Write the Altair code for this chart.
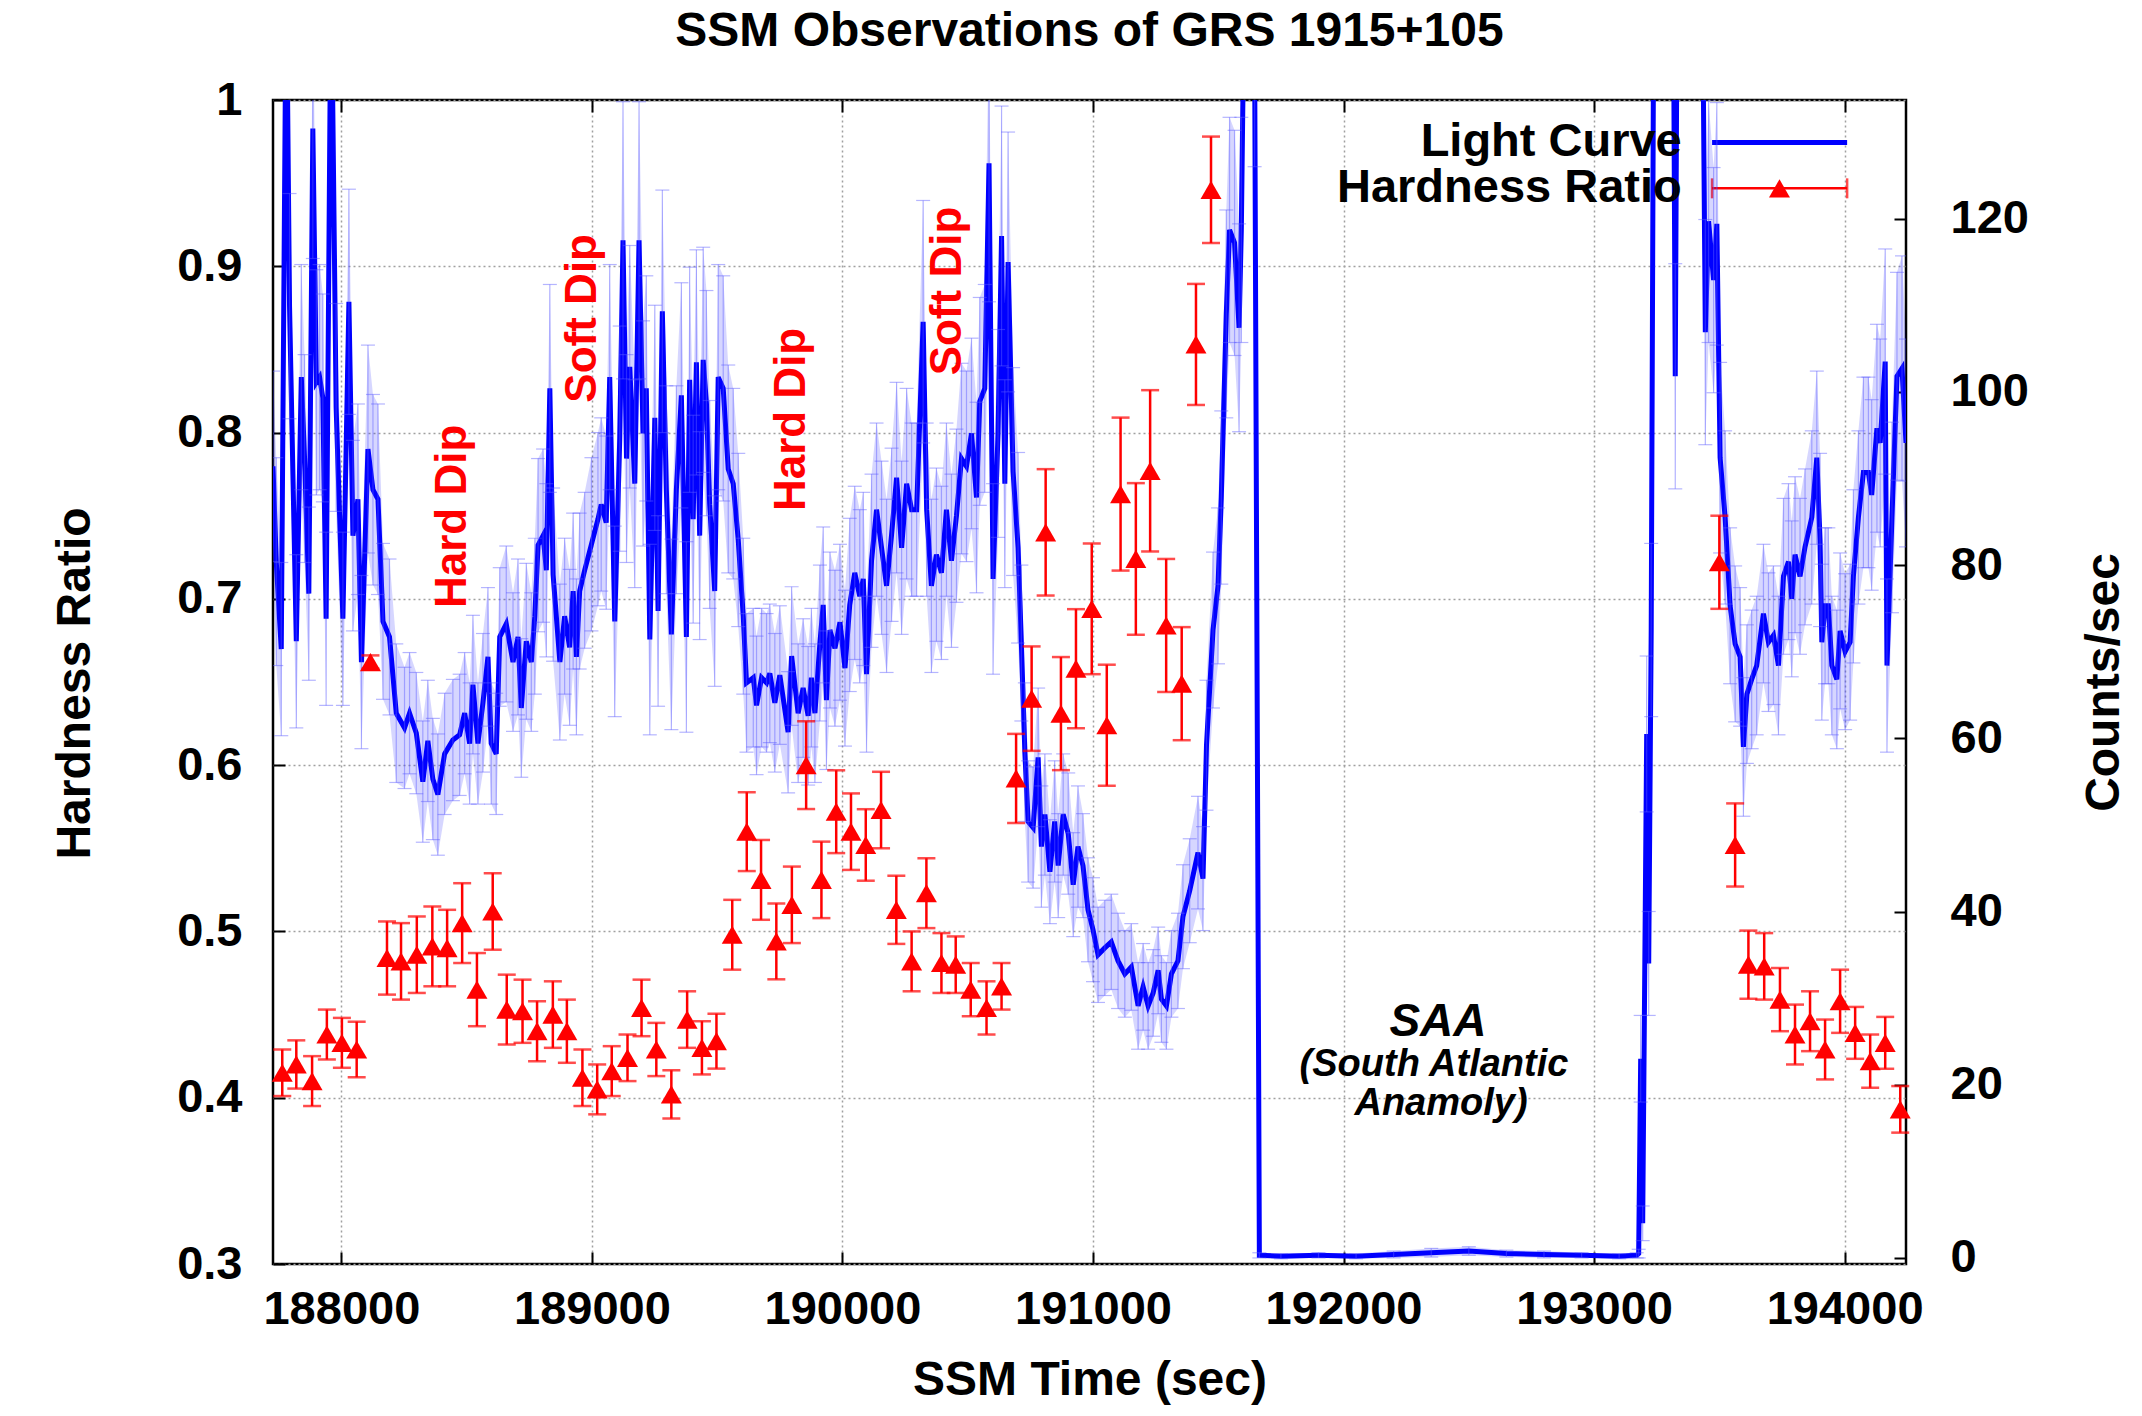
import altair as alt
import pandas as pd

FONT = "Liberation Sans"

# ---------------- data ----------------
# Light curve (SSM counts/sec), time in SSM seconds
lc_time = [
    187727, 187740, 187760, 187780, 187793, 187820, 187840, 187853, 187870, 187886,
    187900, 187913, 187926, 187939, 187959, 187979, 188006, 188030, 188046, 188066,
    188080, 188106, 188126, 188146,
    188166, 188192, 188219, 188252, 188272, 188299, 188325, 188345, 188365, 188385,
    188412, 188445, 188472, 188492, 188512, 188525, 188545, 188565, 188585, 188598, 188618,
    188632, 188658, 188685, 188705, 188718, 188738, 188758, 188772, 188785, 188805,
    188818, 188832, 188845, 188872, 188891, 188911, 188925, 188938, 188951, 188971,
    188998, 189024, 189037, 189057,
    189071, 189091, 189111, 189124, 189138, 189151, 189171, 189188, 189204, 189217,
    189231, 189251, 189264, 189281, 189297, 189317, 189337, 189357, 189377, 189390,
    189404, 189417, 189430, 189444, 189457, 189470, 189490, 189504, 189524, 189544,
    189564, 189584, 189604,
    189617, 189644, 189657, 189677, 189697, 189710, 189730, 189750, 189783, 189797,
    189823, 189843, 189863, 189876, 189890, 189910, 189923, 189936, 189950, 189970, 189990,
    190010, 190029, 190049, 190069, 190083, 190096, 190116, 190136, 190156, 190176,
    190196, 190216, 190236, 190256, 190276, 190296, 190322, 190336, 190355, 190375,
    190395, 190415, 190435, 190455, 190475, 190495, 190515, 190535, 190548, 190568,
    190585, 190601, 190621, 190635, 190648, 190661, 190681, 190701, 190714,
    190728, 190741, 190761, 190781, 190794, 190808, 190828, 190847, 190861, 190881,
    190901, 190921, 190940, 190960, 190980, 191000, 191020, 191047, 191073, 191100,
    191127, 191153, 191180, 191200, 191220, 191240, 191260, 191273, 191293, 191313,
    191339, 191359, 191386, 191419, 191439, 191453, 191479, 191499, 191512, 191532,
    191545, 191565, 191583, 191592,
    191605, 191620, 191645, 191664, 191750, 191900, 192050, 192200, 192350, 192500,
    192650, 192800, 192950, 193100, 193170,
    193178, 193186, 193194, 193210, 193218, 193228, 193240, 193280, 193316, 193324,
    193332, 193380, 193432, 193444, 193457, 193477, 193490, 193503, 193523, 193543,
    193563, 193583, 193596, 193610, 193629, 193649, 193676, 193696, 193716, 193736,
    193756, 193776, 193789, 193802, 193822, 193842, 193869, 193889, 193902, 193909,
    193922, 193935, 193949, 193969, 193982, 194002, 194022, 194035, 194055, 194075,
    194095, 194108, 194129, 194142, 194162, 194169, 194189, 194209, 194229, 194245,
]
lc_rate = [
    91.4, 80.4, 70.3, 150, 109.9, 71.2, 101.7, 92.3, 76.7, 130.4,
    101.1, 101.7, 99.3, 73.8, 150, 98.2, 73.8, 110.4, 83.4, 87.6,
    68.8, 93.4, 88.7, 87.6,
    73.5, 71.7, 62.9, 61.2, 62.9, 60.6, 55.0, 59.7, 55.3, 53.5,
    58.2, 59.8, 60.4, 62.9, 59.4, 66.2, 59.4, 64.1, 69.4, 59.4, 58.2,
    71.7, 73.2, 68.8, 71.7, 63.5, 71.2, 68.8, 74.1, 82.3, 83.4,
    79.4, 100.4, 78.9, 68.8, 74.1, 70.5, 77.0, 69.4, 77.0, 79.4,
    82.4, 85.3, 87.0, 84.9,
    101.7, 73.5, 94.6, 117.5, 92.3, 102.9, 89.4, 117.5, 95.2, 100.4,
    71.4, 97.0, 74.7, 109.3, 88.7, 72.0, 88.7, 99.6, 71.7, 101.4,
    85.3, 103.4, 83.4, 103.7, 98.7, 87.0, 77.0, 101.7, 100.4, 91.1,
    89.4, 82.9, 74.1,
    66.4, 67.0, 63.8, 67.0, 66.4, 67.5, 64.1, 67.3, 60.7, 69.5,
    62.9, 65.8, 62.6, 67.0, 62.9, 71.0, 75.4, 64.4, 72.5, 70.4, 73.4,
    68.1, 75.4, 79.1, 76.4, 78.4, 67.4, 80.5, 86.4, 82.0, 77.6,
    83.5, 90.1, 82.0, 89.4, 86.4, 86.4, 108.1, 86.4, 77.6, 81.2,
    79.1, 86.4, 80.5, 85.7, 92.3, 91.4, 95.2, 87.8, 98.9, 100.4,
    126.4, 78.4, 95.2, 118.0, 89.4, 115.0, 90.8, 82.0, 71.0,
    58.4, 50.4, 49.7, 57.8, 47.5, 51.2, 44.6, 50.4, 45.3, 51.2,
    49.0, 43.1, 47.5, 45.3, 40.2, 37.9, 35.0, 35.8, 36.5, 34.3,
    32.8, 33.6, 29.1, 31.3, 29.1, 30.6, 33.2, 29.9, 29.1, 32.8,
    34.3, 39.4, 42.4, 46.8, 43.8, 59.2, 72.5, 77.6, 87.8, 109.0,
    118.7, 117.2, 107.4, 118.7,
    150, 170, 140, 0.3, 0.2, 0.3, 0.2, 0.4, 0.6, 0.8,
    0.5, 0.4, 0.3, 0.2, 0.3,
    0.5, 23.0, 4.0, 60.5, 34.0, 72.5, 160, 170, 150, 101.8,
    150, 170, 150, 106.9, 119.7, 112.9, 119.4, 92.4, 85.5, 75.3,
    70.9, 69.4, 59.0, 65.1, 66.8, 68.4, 74.4, 71.1, 71.9, 68.4,
    78.7, 80.4, 76.1, 81.2, 78.7, 82.1, 85.5, 92.4, 82.9, 71.1,
    75.3, 75.3, 68.4, 66.8, 72.4, 70.0, 71.1, 78.7, 85.5, 90.7,
    90.7, 88.1, 95.8, 94.1, 103.5, 68.4, 85.5, 101.8, 102.7, 94.1,
]
lc_err = [
    11, 12, 10, 14, 13, 10, 13, 12, 10, 15,
    13, 13, 12, 10, 14, 12, 10, 13, 11, 11,
    10, 12, 11, 11,
    9, 9, 8, 7, 7, 7, 7, 7, 7, 7,
    7, 7, 7, 7, 7, 8, 7, 8, 8, 7, 7,
    8, 9, 8, 9, 8, 9, 8, 9, 10, 10,
    10, 12, 10, 9, 9, 9, 9, 9, 9, 9,
    10, 10, 10, 10,
    13, 11, 13, 16, 12, 14, 12, 16, 13, 13,
    11, 13, 11, 14, 12, 11, 12, 13, 11, 13,
    12, 13, 12, 13, 13, 12, 11, 13, 13, 12,
    11, 10, 9,
    8, 8, 8, 8, 8, 8, 8, 8, 7, 8,
    8, 8, 8, 8, 8, 9, 9, 8, 9, 9, 9,
    9, 10, 10, 10, 10, 9, 10, 10, 10, 10,
    10, 11, 10, 11, 10, 10, 14, 10, 10, 10,
    10, 10, 10, 10, 11, 11, 11, 11, 12, 12,
    16, 11, 12, 15, 12, 15, 12, 11, 9,
    8, 7, 7, 8, 7, 7, 6, 7, 6, 7,
    7, 6, 7, 6, 6, 6, 5.5, 5.5, 5.5, 5.5,
    5, 5, 5, 5, 5, 5, 5, 5, 5, 5,
    5.5, 6, 6, 6.5, 6, 7.5, 9, 9, 10, 12,
    13, 13, 12, 13,
    14, 15, 14, 0.3, 0.3, 0.3, 0.3, 0.4, 0.5, 0.5,
    0.4, 0.4, 0.3, 0.3, 0.3,
    0.5, 5, 2, 9, 6, 10, 14, 15, 14, 13,
    14, 15, 14, 13, 14, 13, 14, 11, 10, 9,
    9, 8, 8, 8, 8, 8, 8, 8, 8, 8,
    9, 9, 9, 9, 9, 9, 10, 10, 10, 9,
    9, 9, 8, 8, 9, 9, 9, 10, 10, 11,
    11, 11, 12, 12, 13, 10, 11, 12, 13, 12,
]

# Hardness ratio
hr_time = [
    187764, 187820, 187883, 187942, 188002, 188061, 188116, 188182, 188238, 188301,
    188363, 188422, 188482, 188541, 188604, 188660, 188723, 188781, 188844, 188900,
    188962, 189021, 189079, 189142, 189198, 189257, 189317, 189380, 189439, 189497,
    189560, 189618, 189675, 189736, 189798, 189855, 189916, 189975, 190034, 190093,
    190154, 190215, 190276, 190335, 190395, 190452, 190512, 190575, 190635, 190693,
    190755, 190811, 190872, 190932, 190995, 191055, 191110, 191171, 191228, 191292,
    191354, 191411, 191471,
    193500, 193563, 193616, 193679, 193742, 193802, 193862, 193922, 193982, 194042,
    194102, 194162, 194222,
]
hr_value = [
    0.415, 0.420, 0.410, 0.438, 0.433, 0.429, 0.662, 0.484, 0.482, 0.486,
    0.491, 0.490, 0.505, 0.465, 0.512, 0.453, 0.452, 0.440, 0.450, 0.440,
    0.412, 0.405, 0.416, 0.424, 0.454, 0.429, 0.402, 0.447, 0.430, 0.434,
    0.498, 0.560, 0.531, 0.494, 0.516, 0.600, 0.531, 0.572, 0.560, 0.552,
    0.573, 0.513, 0.482, 0.523, 0.481, 0.480, 0.465, 0.454, 0.467, 0.592,
    0.640, 0.740, 0.631, 0.658, 0.694, 0.624, 0.763, 0.724, 0.777, 0.684,
    0.649, 0.853, 0.946,
    0.722, 0.552, 0.480, 0.479, 0.459, 0.438, 0.446, 0.429, 0.458, 0.439,
    0.422, 0.433, 0.393,
]
hr_err = [
    0.014, 0.0145, 0.015, 0.015, 0.015, 0.0167, 0.004, 0.022, 0.023, 0.023,
    0.024, 0.023, 0.024, 0.022, 0.023, 0.021, 0.019, 0.018, 0.020, 0.019,
    0.017, 0.015, 0.015, 0.014, 0.017, 0.016, 0.0145, 0.017, 0.016, 0.0165,
    0.021, 0.0237, 0.024, 0.0228, 0.023, 0.0264, 0.023, 0.0249, 0.023, 0.0215,
    0.023, 0.0205, 0.018, 0.021, 0.018, 0.017, 0.016, 0.016, 0.014, 0.0268,
    0.0314, 0.038, 0.034, 0.0358, 0.0393, 0.0364, 0.046, 0.0456, 0.0485, 0.040,
    0.034, 0.0364, 0.032,
    0.028, 0.025, 0.0205, 0.020, 0.019, 0.018, 0.018, 0.018, 0.019, 0.0156,
    0.016, 0.0156, 0.014,
]

x_ticks = [188000, 189000, 190000, 191000, 192000, 193000, 194000]
hr_ticks = [0.3, 0.4, 0.5, 0.6, 0.7, 0.8, 0.9, 1.0]
rate_ticks = [0, 20, 40, 60, 80, 100, 120]

dip_labels = ["Hard Dip", "Soft Dip", "Hard Dip", "Soft Dip"]
dip_time = [188447, 188965, 189800, 190421]
dip_hr = [0.7496, 0.8687, 0.8079, 0.8851]

saa_labels = ["SAA", "(South Atlantic", "Anamoly)"]
saa_time = [192377, 192361, 192389]
saa_hr = [0.4455, 0.4194, 0.3962]
saa_size = [46, 38, 38]

legend_labels = ["Light Curve", "Hardness Ratio"]
legend_rate = [128.8, 123.5]
legend_text_time = [193350, 193350]
legend_sample_time = [193471, 194010]
legend_marker_time = [193740]

assert len(lc_time) == len(lc_rate) == len(lc_err), (len(lc_time), len(lc_rate), len(lc_err))
assert len(hr_time) == len(hr_value) == len(hr_err), (len(hr_time), len(hr_value), len(hr_err))

# ---------------- tables ----------------
lc_df = pd.DataFrame({"t": lc_time, "rate": lc_rate, "err": lc_err})
lc_df["lo"] = lc_df["rate"] - lc_df["err"]
lc_df["hi"] = lc_df["rate"] + lc_df["err"]

hr_df = pd.DataFrame({"t": hr_time, "hr": hr_value, "err": hr_err})
hr_df["lo"] = hr_df["hr"] - hr_df["err"]
hr_df["hi"] = hr_df["hr"] + hr_df["err"]

dip_df = pd.DataFrame({"t": dip_time, "hr": dip_hr, "label": dip_labels})
saa_df = pd.DataFrame({"t": saa_time, "hr": saa_hr, "label": saa_labels, "fs": saa_size})
leg_text_df = pd.DataFrame({"t": legend_text_time, "rate": legend_rate, "label": legend_labels})
leg_line_df = pd.DataFrame({
    "t1": [legend_sample_time[0]] * 2, "t2": [legend_sample_time[1]] * 2,
    "rate": legend_rate, "col": ["#0000ff", "#ff0000"], "w": [5, 2.5],
})
leg_cap_df = pd.DataFrame({"t": legend_sample_time, "rate": [legend_rate[1]] * 2})
leg_tri_df = pd.DataFrame({"t": legend_marker_time, "rate": [legend_rate[1]]})

# ---------------- scales & axes ----------------
x_scale = alt.Scale(domain=[187727, 194245], nice=False, zero=False)
hr_scale = alt.Scale(domain=[0.3, 1.0], nice=False, zero=False)
lc_scale = alt.Scale(domain=[-0.7, 133.7], nice=False, zero=False)

common = dict(tickSize=12, offset=-12, domain=False, tickColor="black", tickWidth=2,
              labelFont=FONT, labelFontSize=47, labelFontWeight="bold", labelColor="black",
              titleFont=FONT, titleFontSize=48, titleFontWeight="bold", titleColor="black")
grid = dict(grid=True, gridColor="#a0a0a0", gridDash=[2, 3], gridWidth=1.5)

x_axis = alt.Axis(orient="bottom", values=x_ticks, format="d", labelPadding=22,
                  title="SSM Time (sec)", titleX=816.5, titleY=128, titleBaseline="middle",
                  titleAlign="center", **grid, **common)
x_top_axis = alt.Axis(orient="top", values=x_ticks, labels=False, grid=False, title=None,
                      tickSize=12, offset=-12, domain=False, tickColor="black", tickWidth=2)
hr_axis = alt.Axis(orient="left", values=hr_ticks, format="~g", labelPadding=31,
                   title="Hardness Ratio", titleAngle=270, titleX=-210, titleY=583,
                   titleBaseline="middle", titleAlign="center", **grid, **common)
rate_axis = alt.Axis(orient="right", values=rate_ticks, format="d", labelPadding=44, grid=False,
                     title="Counts/sec", titleAngle=270, titleX=210, titleY=582,
                     titleBaseline="middle", titleAlign="center", **common)


def X(f, ax=None):
    return alt.X(f, type="quantitative", scale=x_scale, axis=ax)


def YL(f, ax=None):
    return alt.Y(f, type="quantitative", scale=lc_scale, axis=ax)


def YH(f, ax=None):
    return alt.Y(f, type="quantitative", scale=hr_scale, axis=ax)


# ---------------- light-curve layers (right axis) ----------------
leg_text = alt.Chart(leg_text_df).mark_text(
    align="right", baseline="middle", font=FONT, fontSize=47, fontWeight="bold", color="black"
).encode(x=X("t"), y=YL("rate"), text="label:N")
leg_lines = alt.Chart(leg_line_df).mark_rule().encode(
    x=X("t1"), x2="t2", y=YL("rate"),
    color=alt.Color("col:N", scale=None), strokeWidth=alt.StrokeWidth("w:Q", scale=None))
leg_caps = alt.Chart(leg_cap_df).mark_tick(
    color="#ff0000", orient="vertical", size=20, thickness=2.5
).encode(x=X("t"), y=YL("rate"))
leg_tri = alt.Chart(leg_tri_df).mark_point(
    shape="triangle-up", filled=True, size=440, color="#ff0000", opacity=1
).encode(x=X("t"), y=YL("rate"))

lc_base = alt.Chart(lc_df)
band = lc_base.mark_area(color="#0000ff", opacity=0.16, clip=True).encode(
    x=X("t"), y=YL("lo"), y2="hi")
lc_rules = lc_base.mark_rule(color="#5a5aff", opacity=0.45, strokeWidth=1.2, clip=True).encode(
    x=X("t"), y=YL("lo"), y2="hi")
lc_caps = lc_base.transform_fold(["lo", "hi"], as_=["end", "val"]).mark_tick(
    color="#5a5aff", opacity=0.45, thickness=1.2, size=14, orient="horizontal", clip=True
).encode(x=X("t"), y=YL("val"))
lc_line = lc_base.mark_line(color="#0000ff", strokeWidth=5, clip=True).encode(
    x=X("t", x_top_axis), y=YL("rate", rate_axis))

# ---------------- hardness layers (left axis) ----------------
hr_base = alt.Chart(hr_df)
hr_rules = hr_base.mark_rule(color="#ff0000", strokeWidth=2.5).encode(
    x=X("t", x_axis), y=YH("lo", hr_axis), y2="hi")
hr_caps = hr_base.transform_fold(["lo", "hi"], as_=["end", "val"]).mark_tick(
    color="#ff0000", thickness=2.5, size=18, orient="horizontal"
).encode(x=X("t"), y=YH("val"))
hr_pts = hr_base.mark_point(
    shape="triangle-up", filled=True, size=440, color="#ff0000", opacity=1
).encode(x=X("t"), y=YH("hr"))

dips = alt.Chart(dip_df).mark_text(
    angle=270, align="center", baseline="middle", font=FONT, fontSize=44,
    fontWeight="bold", color="#ff0000"
).encode(x=X("t"), y=YH("hr"), text="label:N")
saa = alt.Chart(saa_df).mark_text(
    align="center", baseline="middle", font=FONT, fontWeight="bold",
    fontStyle="italic", color="black"
).encode(x=X("t"), y=YH("hr"), text="label:N", size=alt.Size("fs:Q", scale=None))

chart = alt.layer(
    lc_line, leg_text, leg_lines, leg_caps, leg_tri, band, lc_rules, lc_caps,
    hr_rules, hr_caps, hr_pts, dips, saa,
).resolve_scale(
    y="independent"
).resolve_axis(
    x="independent", y="independent"
).properties(
    width=1633, height=1164,
    padding={"left": 273, "top": 100, "right": 236, "bottom": 152},
    autosize=alt.AutoSizeParams(type="none"),
    background="white",
    title=alt.TitleParams(
        "SSM Observations of GRS 1915+105", font=FONT, fontSize=48, fontWeight="bold",
        color="black", anchor="middle", frame="group", offset=20),
).configure_view(stroke="black", strokeWidth=2.5)

chart.save("out.html", embed_options={"renderer": "svg", "actions": False})
